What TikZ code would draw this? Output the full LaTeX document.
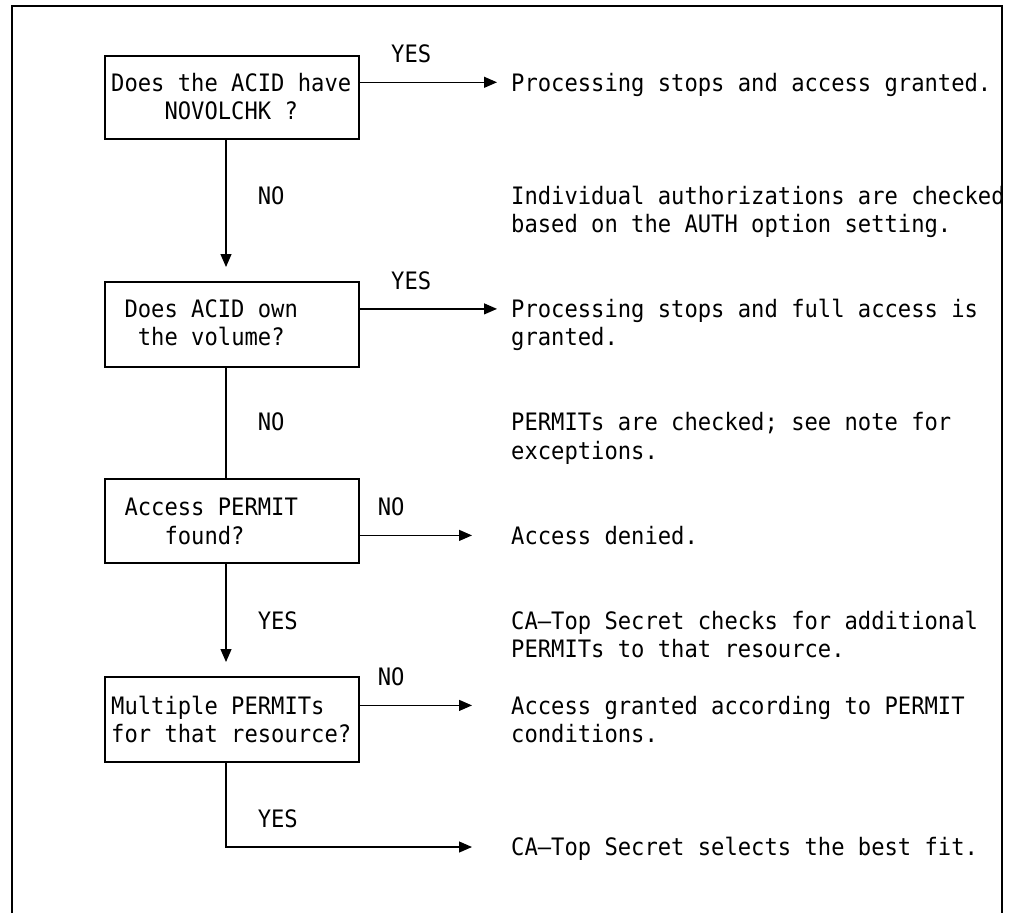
\documentclass[tikz,border=0pt]{standalone}
\usepackage{fontspec}
\setmonofont[FakeStretch=0.923]{DejaVu Sans Mono}
\usetikzlibrary{arrows.meta}
\begin{document}
\begin{tikzpicture}[x=1pt,y=-1pt,
  lbl/.style={anchor=base west, inner sep=0pt, font=\ttfamily\fontsize{24}{28.3}\selectfont},
  box/.style={draw, line width=1.3pt, inner sep=0pt, minimum width=254pt},
  conn/.style={line width=1.2pt},
  arr/.style={conn, -{Triangle[length=13pt,width=11pt]}}]
\useasboundingbox (0,0) rectangle (1016,913);
% frame
\draw[line width=1.2pt] (12,913) -- (12,6) -- (1002,6) -- (1002,913);
% boxes
\node[box, minimum height=83pt] (b1) at (232,97.5) {};
\node[box, minimum height=85pt] (b2) at (232,324.5) {};
\node[box, minimum height=84pt] (b3) at (232,521) {};
\node[box, minimum height=85pt] (b4) at (232,719.5) {};
% box texts
\node[lbl] (b1a) at (111,91) {Does the ACID have};
\node[lbl] (b1b) at (164.3,119.3) {NOVOLCHK ?};
\node[lbl] (b2a) at (124.3,317.6) {Does ACID own};
\node[lbl] (b2b) at (137.7,345.9) {the volume?};
\node[lbl] (b3a) at (124.3,515.8) {Access PERMIT};
\node[lbl] (b3b) at (164.3,544.1) {found?};
\node[lbl] (b4a) at (111,714.1) {Multiple PERMITs};
\node[lbl] (b4b) at (111,742.4) {for that resource?};
% labels
\node[lbl] (y1) at (391,62.7) {YES};
\node[lbl] (n1) at (257.6,204.3) {NO};
\node[lbl] (y2) at (391,289.3) {YES};
\node[lbl] (n2) at (257.6,430.9) {NO};
\node[lbl] (n3) at (377.6,515.8) {NO};
\node[lbl] (y3) at (257.6,629.1) {YES};
\node[lbl] (n4) at (377.6,685.7) {NO};
\node[lbl] (y4) at (257.6,827.3) {YES};
% descriptions
\node[lbl] (d1) at (511,91) {Processing stops and access granted.};
\node[lbl] (d2a) at (511,204.3) {Individual authorizations are checked};
\node[lbl] (d2b) at (511,232.6) {based on the AUTH option setting.};
\node[lbl] (d3a) at (511,317.6) {Processing stops and full access is};
\node[lbl] (d3b) at (511,345.9) {granted.};
\node[lbl] (d4a) at (511,430.9) {PERMITs are checked; see note for};
\node[lbl] (d4b) at (511,459.2) {exceptions.};
\node[lbl] (d5) at (511,544.1) {Access denied.};
\node[lbl] (d6a) at (511,629.1) {CA—Top Secret checks for additional};
\node[lbl] (d6b) at (511,657.4) {PERMITs to that resource.};
\node[lbl] (d7a) at (511,714.1) {Access granted according to PERMIT};
\node[lbl] (d7b) at (511,742.4) {conditions.};
\node[lbl] (d8) at (511,855.7) {CA—Top Secret selects the best fit.};
% connector end points
\coordinate (a1) at (497,82.3);
\coordinate (a2) at (497,308.9);
\coordinate (a3) at (472,535.4);
\coordinate (a4) at (472,705.4);
\coordinate (a5) at (472,847);
\coordinate (v1) at (226,267);
\coordinate (v3) at (226,662);
\coordinate (c5) at (226,847);
% connectors
\draw[arr] (b1.east |- a1) -- (a1);
\draw[arr] (b2.east |- a2) -- (a2);
\draw[arr] (b3.east |- a3) -- (a3);
\draw[arr] (b4.east |- a4) -- (a4);
\draw[arr] (v1 |- b1.south) -- (v1);
\draw[conn] (v1 |- b2.south) -- (v1 |- b3.north);
\draw[arr] (v3 |- b3.south) -- (v3);
\draw[arr] (c5 |- b4.south) -- (c5) -- (a5);
\end{tikzpicture}
\end{document}
